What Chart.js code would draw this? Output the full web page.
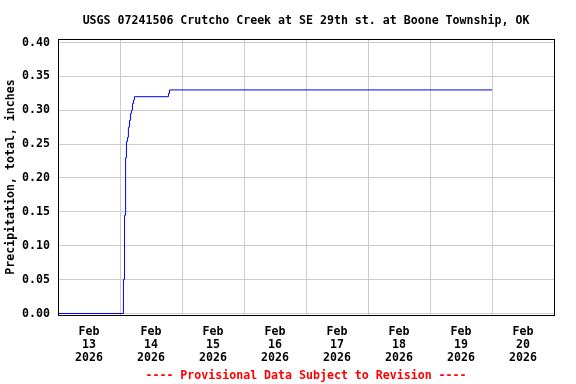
<!DOCTYPE html>
<html><head><meta charset="utf-8">
<script src="https://cdn.jsdelivr.net/npm/chart.js@4.4.1/dist/chart.umd.min.js"></script>
<style>html,body{margin:0;padding:0;background:#fff}</style>
</head><body>
<canvas id="c" width="576" height="384" style="display:block;width:576px;height:384px"></canvas>
<script>
const titleText = 'USGS 07241506 Crutcho Creek at SE 29th st. at Boone Township, OK';
const footerText = '---- Provisional Data Subject to Revision ----';
const yAxisTitle = 'Precipitation, total, inches';

// Observation times (local) and cumulative precipitation (inches)
const obsTimes = ['2026-02-13 00:00','2026-02-14 01:20','2026-02-14 01:45','2026-02-14 02:10','2026-02-14 02:30',
  '2026-02-14 02:55','2026-02-14 03:15','2026-02-14 03:40','2026-02-14 04:05','2026-02-14 04:25',
  '2026-02-14 04:50','2026-02-14 05:15','2026-02-14 05:35','2026-02-14 18:45','2026-02-14 19:10','2026-02-20 00:00'];
const precipValues = [0.00, 0.05, 0.145, 0.23, 0.254, 0.26, 0.275, 0.285, 0.295, 0.30, 0.31, 0.315, 0.32, 0.325, 0.33, 0.33];

const axisStart = '2026-02-13 00:00';
const axisEnd = '2026-02-21 00:00';
const monthLabel = 'Feb';
const yearLabel = '2026';
const dayLabels = ['13','14','15','16','17','18','19','20'];
const yTicks = [0.00, 0.05, 0.10, 0.15, 0.20, 0.25, 0.30, 0.35, 0.40];

function toMs(s){ const [d,t]=s.split(' '); const [Y,M,D]=d.split('-').map(Number); const [h,m]=t.split(':').map(Number); return Date.UTC(Y,M-1,D,h,m); }
const t0 = toMs(axisStart);
const hrs = s => (toMs(s)-t0)/3600000;
const xMax = hrs(axisEnd);
const points = obsTimes.map((t,i)=>({x:hrs(t), y:precipValues[i]}));
const xTickVals = []; for (let h=0; h<=xMax; h+=12) xTickVals.push(h);

const FONT = {family:'"DejaVu Sans Mono", "Liberation Mono", monospace', size:11.6, weight:'bold', lineHeight:'14px'};

const framePlugin = {
  id:'frame',
  afterDraw(chart){
    const {ctx, chartArea:a} = chart;
    ctx.save();
    ctx.strokeStyle='#000'; ctx.lineWidth=1;
    const l=Math.round(a.left)+0.5, r=Math.round(a.right)+0.5, t=Math.round(a.top)+0.5, b=Math.round(a.bottom)+0.5;
    ctx.strokeRect(l,t,r-l,b-t);
    ctx.restore();
  }
};

new Chart(document.getElementById('c'), {
  type:'line',
  data:{datasets:[{data:points, borderColor:'#0000ff', borderWidth:1, pointRadius:0, stepped:'before', fill:false, tension:0}]},
  options:{
    responsive:false, animation:false, devicePixelRatio:1,
    layout:{padding:{left:0,right:22,top:0,bottom:0}},
    plugins:{
      legend:{display:false}, tooltip:{enabled:false},
      title:{display:true, text:titleText, fullSize:false, color:'#000', font:FONT, padding:{top:14,bottom:11}},
      subtitle:{display:true, position:'bottom', text:footerText, fullSize:false, color:'#ff0000', font:FONT, padding:{top:3,bottom:1}}
    },
    scales:{
      x:{type:'linear', min:0, max:xMax,
        afterBuildTicks(s){ s.ticks = xTickVals.map(v=>({value:v})); },
        afterFit(s){ s.height = 51; },
        grid:{drawTicks:false, color:c=> (c.tick && c.tick.value%24===0) ? '#cccccc' : 'rgba(0,0,0,0)', lineWidth:1},
        border:{display:false},
        ticks:{autoSkip:false, maxRotation:0, minRotation:0, padding:11, color:'#000', font:Object.assign({},FONT,{lineHeight:'12.7px'}),
          callback:v=> (v%24===12) ? [monthLabel, dayLabels[Math.floor(v/24)], yearLabel] : ''}
      },
      y:{type:'linear', min:-0.002214, max:0.405166,
        afterBuildTicks(s){ s.ticks = yTicks.map(v=>({value:v})); },
        afterFit(s){ s.width = 58; },
        grid:{drawTicks:false, color:'#cccccc', lineWidth:1},
        border:{display:false},
        ticks:{padding:8, color:'#000', font:FONT, callback:v=>Number(v).toFixed(2)},
        title:{display:true, text:yAxisTitle, color:'#000', font:FONT, padding:{top:4,bottom:0}}
      }
    }
  },
  plugins:[framePlugin]
});
</script>
</body></html>
